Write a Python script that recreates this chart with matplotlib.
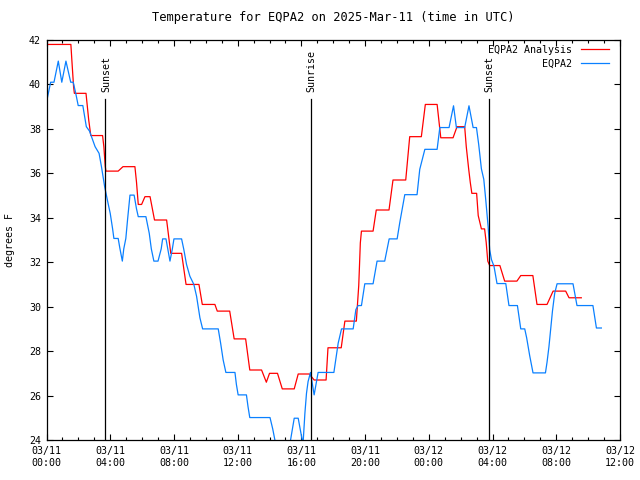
import matplotlib
matplotlib.use("Agg")
import matplotlib.pyplot as plt
from matplotlib.ticker import MultipleLocator

# hours since 2025-03-11 00:00 UTC
analysis_h = [0, 1.53, 1.6, 1.7, 1.75, 2.48, 2.65, 2.78, 3.52, 3.6, 3.69, 3.73, 4.5, 4.8,
              5.55, 5.65, 5.76, 5.97, 6.18, 6.5, 6.78, 7.54, 7.8, 8.48, 8.76, 9.57, 9.78,
              10.57, 10.72, 11.5, 11.78, 12.5, 12.76, 13.5, 13.8, 14.0, 14.5, 14.8, 15.55,
              15.8, 16.5, 16.8, 17.55, 17.67, 18.5, 18.73, 19.45, 19.6, 19.65, 19.7, 19.77,
              20.5, 20.7, 21.5, 21.75, 22.55, 22.8, 23.53, 23.78, 24.52, 24.75, 25.52, 25.77,
              26.25, 26.35, 26.5, 26.6, 26.7, 27.0, 27.1, 27.3, 27.5, 27.6, 27.7, 27.82,
              28.46, 28.76, 29.53, 29.77, 30.53, 30.79, 31.42, 31.8, 32.59, 32.8, 33.57]
analysis_t = [41.8, 41.8, 41.0, 39.9, 39.6, 39.6, 38.4, 37.7, 37.7, 37.2, 36.3, 36.1, 36.1, 36.3,
              36.3, 35.6, 34.6, 34.6, 34.95, 34.95, 33.9, 33.9, 32.4, 32.4, 31.0, 31.0, 30.1,
              30.1, 29.8, 29.8, 28.55, 28.55, 27.15, 27.15, 26.6, 27.0, 27.0, 26.3, 26.3,
              26.97, 26.97, 26.7, 26.7, 28.15, 28.15, 29.35, 29.35, 30.95, 31.9, 32.87, 33.4,
              33.4, 34.35, 34.35, 35.7, 35.7, 37.65, 37.65, 39.1, 39.1, 37.6, 37.6, 38.1,
              38.1, 37.2, 36.2, 35.6, 35.1, 35.1, 34.1, 33.5, 33.5, 32.9, 32.05, 31.85,
              31.85, 31.15, 31.15, 31.4, 31.4, 30.1, 30.1, 30.7, 30.7, 30.4, 30.4]

station_h = [0, 0.26, 0.47, 0.74, 0.96, 1.22, 1.52, 1.68, 1.85, 1.99, 2.28, 2.5, 2.7, 2.85,
             3.05, 3.3, 3.45, 3.65, 3.85, 4.0, 4.15, 4.23, 4.5, 4.6, 4.76, 4.85, 4.98, 5.09,
             5.24, 5.5, 5.65, 5.76, 6.24, 6.45, 6.58, 6.74, 7.0, 7.2, 7.29, 7.5, 7.64, 7.75,
             7.9, 8.0, 8.48, 8.62, 8.79, 9.0, 9.25, 9.42, 9.63, 9.8, 10.78, 10.93, 11.09,
             11.26, 11.83, 11.92, 12.03, 12.55, 12.65, 12.76, 14.03, 14.2, 14.5, 15.0, 15.32,
             15.55, 15.8, 16.05, 16.11, 16.22, 16.32, 16.42, 16.57, 16.8, 17.05, 18.04, 18.31,
             18.52, 19.25, 19.42, 19.56, 19.77, 19.98, 20.5, 20.75, 21.23, 21.51, 22.01, 22.18,
             22.49, 23.26, 23.43, 23.75, 24.52, 24.69, 25.27, 25.55, 25.73, 26.25, 26.52,
             26.78, 26.99, 27.13, 27.3, 27.45, 27.57, 27.72, 27.82, 27.93, 28.09, 28.28, 28.83,
             29.03, 29.56, 29.77, 30.02, 30.14, 30.33, 30.54, 31.32, 31.42, 31.54, 31.65,
             31.76, 31.9, 32.05, 33.05, 33.3, 34.3, 34.52, 34.83]
station_t = [39.2, 40.1, 40.1, 41.05, 40.1, 41.05, 40.1, 40.1, 39.55, 39.05, 39.05, 38.1, 37.9, 37.6,
             37.2, 36.9, 36.3, 35.4, 34.7, 34.2, 33.5, 33.07, 33.07, 32.65, 32.05, 32.6, 33.07, 33.93,
             35.02, 35.02, 34.4, 34.05, 34.05, 33.3, 32.6, 32.05, 32.05, 32.6, 33.05, 33.05, 32.5, 32.05,
             32.6, 33.05, 33.05, 32.57, 31.9, 31.37, 31.0, 30.47, 29.5, 29.0, 29.0, 28.36, 27.6,
             27.04, 27.04, 26.5, 26.03, 26.03, 25.5, 25.01, 25.01, 24.5, 23.4, 23.4, 24.0,
             24.98, 24.98, 24.0, 23.9, 25.2, 26.1, 26.63, 27.04, 26.03, 27.04, 27.04, 28.36,
             29.0, 29.0, 29.87, 30.05, 30.05, 31.03, 31.03, 32.05, 32.05, 33.05, 33.05, 33.8,
             35.04, 35.04, 36.18, 37.08, 37.08, 38.06, 38.06, 39.04, 38.06, 38.06, 39.04,
             38.06, 38.06, 37.3, 36.2, 35.73, 34.83, 33.62, 32.57, 32.12, 31.82, 31.04, 31.04,
             30.05, 30.05, 29.0, 29.0, 28.6, 27.8, 27.02, 27.02, 27.5, 28.2, 29.0,
             29.8, 30.6, 31.03, 31.03, 30.05, 30.05, 29.04, 29.04]

sun_h = [3.70, 16.6, 27.76]
sun_labels = ["Sunset", "Sunrise", "Sunset"]

tick_h = [0, 4, 8, 12, 16, 20, 24, 28, 32, 36]
tick_labels = ["03/11\n00:00", "03/11\n04:00", "03/11\n08:00", "03/11\n12:00", "03/11\n16:00",
               "03/11\n20:00", "03/12\n00:00", "03/12\n04:00", "03/12\n08:00", "03/12\n12:00"]

plt.rcParams['font.family'] = ['DejaVu Sans Mono']
plt.rcParams['font.size'] = 7.2

fig = plt.figure(figsize=(6.4, 4.8), dpi=100)
ax = fig.add_axes([46.5 / 640, 40 / 480, 573.5 / 640, 400 / 480])

ax.plot(analysis_h, analysis_t, color='#ff0000', lw=0.9, label='EQPA2 Analysis')
ax.plot(station_h, station_t, color='#0a80ff', lw=0.9, label='EQPA2')

line_top = 39.34
for h, lab in zip(sun_h, sun_labels):
    ax.plot([h, h], [24, line_top], color='black', lw=0.9)
    ax.annotate(lab, (h, line_top), xytext=(0.5, 5), textcoords='offset points',
                rotation=90, ha='center', va='bottom')

ax.set_xlim(0, 36)
ax.set_ylim(24, 42)
ax.set_xticks(tick_h)
ax.set_xticklabels(tick_labels, linespacing=1.3)
ax.xaxis.set_minor_locator(MultipleLocator(1))
ax.yaxis.set_major_locator(MultipleLocator(2))
ax.tick_params(which='both', direction='in', top=True, right=True, width=0.8, pad=4)
ax.tick_params(which='major', length=4.5)
ax.tick_params(which='minor', length=2.2)
for s in ax.spines.values():
    s.set_linewidth(0.9)

ax.set_ylabel('degrees F', labelpad=10)
ax.set_title('Temperature for EQPA2 on 2025-Mar-11 (time in UTC)', pad=14)

ax.legend(loc='upper right', bbox_to_anchor=(1 - 11 / 573.5, 1 - 5 / 400), frameon=False,
          markerfirst=False, handlelength=2.8, handletextpad=0.9, borderpad=0,
          borderaxespad=0, labelspacing=0.35)

fig.savefig('out.png', dpi=100)
